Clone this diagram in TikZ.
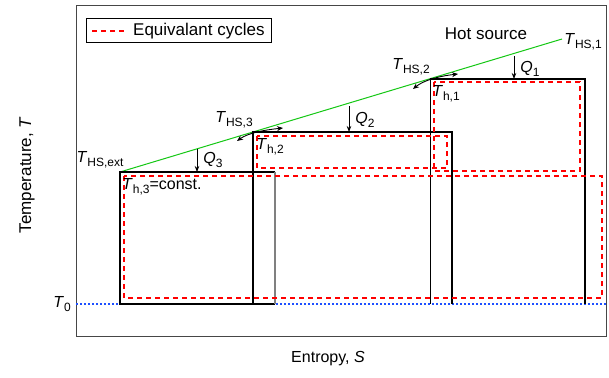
\documentclass[tikz,border=0pt]{standalone}
\usepackage{fontspec}
\setmainfont{Liberation Sans}
\usetikzlibrary{arrows.meta}
\definecolor{hsgreen}{RGB}{20,200,20}
\definecolor{eqred}{RGB}{255,0,0}
\definecolor{tblue}{RGB}{30,80,255}
\definecolor{framegray}{RGB}{70,70,70}
\newcommand\lab[2]{\textit{#1}\raisebox{-3.5pt}{\fontsize{12}{12}\selectfont #2}}
\tikzset{
  txt/.style={inner sep=0pt, font=\fontsize{16}{18}\selectfont},
  bigtxt/.style={inner sep=0pt, font=\fontsize{17}{19}\selectfont},
  blk/.style={draw=black, line width=1.4pt},
  thinblk/.style={draw=black, line width=0.8pt},
  thingray/.style={draw=gray, line width=1.1pt},
  eqcyc/.style={draw=eqred, line width=2.3pt, dash pattern=on 5pt off 4pt},
  hsline/.style={draw=hsgreen, line width=1pt},
  zeroline/.style={draw=tblue, line width=1.5pt, dash pattern=on 2pt off 2pt},
  qarrow/.style={draw=black, line width=0.8pt, -{Stealth[length=6pt,width=4.5pt]}},
  dblarrow/.style={draw=black, line width=0.9pt, {Stealth[length=6pt,width=5pt]}-{Stealth[length=6pt,width=5pt]}},
  frame/.style={draw=framegray, line width=1pt}
}
\begin{document}
\begin{tikzpicture}[x=1pt,y=-1pt]
\useasboundingbox (0,0) rectangle (609,377);
\fill[white] (0,0) rectangle (609,377);
% plot frame
\draw[frame] (76,6) rectangle (606,336);
% T0 line
\coordinate (z0) at (76,304);
\coordinate (z1) at (606,304);
\draw[zeroline] (z0) -- (z1);
% key corners
\coordinate (A3) at (120,172);
\coordinate (A2) at (253,132);
\coordinate (A1) at (430,79);
\coordinate (E) at (562,39);
% hot source line
\draw[hsline] (A3) -- (E);
% black cycles
\draw[blk] (275,304) -- (120,304) -- (A3) -- (275,172);
\draw[thingray] (275,172) -- (275,304);
\draw[blk] (253,304) -- (A2) -- (452,132) -- (452,304);
\draw[blk] (A1) -- (585,79) -- (585,304);
\draw[thinblk] (A1) -- (430,304);
% equivalent cycles
\draw[eqcyc] (124,176) rectangle (602,298);
\draw[eqcyc] (257,136) rectangle (447,168);
\draw[eqcyc] (434,82) rectangle (580,171);
% heat arrows
\coordinate (q1s) at (514,56); \coordinate (q1e) at (514,79);
\coordinate (q2s) at (349,106); \coordinate (q2e) at (349,132);
\coordinate (q3s) at (197,149); \coordinate (q3e) at (197,172);
\draw[qarrow] (q1s) -- (q1e);
\draw[qarrow] (q2s) -- (q2e);
\draw[qarrow] (q3s) -- (q3e);
% double arrows at corners
\coordinate (d1a) at (413,89); \coordinate (d1b) at (458,74);
\coordinate (d2a) at (237,141); \coordinate (d2b) at (283,128);
\draw[dblarrow] (d1a) .. controls (424,80) and (440,76) .. (d1b);
\draw[dblarrow] (d2a) .. controls (248,133) and (264,130) .. (d2b);
% labels
\node[txt] (ths1) at (583,42) {\lab{T}{HS,1}};
\node[bigtxt] (hot) at (486,34) {Hot source};
\node[txt] (ths2) at (411,67) {\lab{T}{HS,2}};
\node[txt] (th1) at (446,94) {\lab{T}{h,1}};
\node[txt] (q1) at (530,69) {\lab{Q}{1}};
\node[txt] (q2) at (365,120) {\lab{Q}{2}};
\node[txt] (q3) at (213,160) {\lab{Q}{3}};
\node[txt] (ths3) at (234,120) {\lab{T}{HS,3}};
\node[txt] (th2) at (270,147) {\lab{T}{h,2}};
\node[txt] (thsx) at (100,160) {\lab{T}{HS,ext}};
\node[txt, anchor=west] (th3) at (122,187) {\lab{T}{h,3}=const.};
\node[txt] (t0) at (62,304) {\lab{T}{0}};
\node[bigtxt, rotate=90] (ylab) at (27,175) {Temperature, \textit{T}};
\node[txt] (xlab) at (328,359) {Entropy, \textit{S}};
% legend
\draw[draw=black, line width=1pt] (86,19) rectangle (271,43);
\coordinate (lg0) at (92,31); \coordinate (lg1) at (126,31);
\draw[eqcyc] (lg0) -- (lg1);
\node[bigtxt, anchor=west] (leg) at (133,31) {Equivalant cycles};
\end{tikzpicture}
\end{document}
